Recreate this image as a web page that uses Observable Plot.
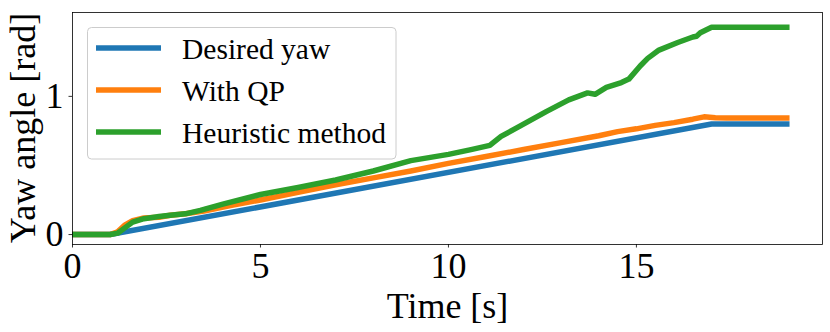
<!DOCTYPE html>
<html>
<head>
<meta charset="utf-8">
<script src="https://cdn.jsdelivr.net/npm/d3@7"></script>
<script src="https://cdn.jsdelivr.net/npm/@observablehq/plot@0.6"></script>
<style>
  html, body { margin: 0; padding: 0; background: #fff; }
  #chart { position: relative; width: 830px; height: 332px; }
</style>
</head>
<body>
<div id="chart"></div>
<script>
// ---- data ----
const seriesNames = ["Desired yaw", "With QP", "Heuristic method"];
const seriesColors = ["#1f77b4", "#ff7f0e", "#2ca02c"];

const desiredT = [0, 1.0, 17.0, 19.0];
const desiredY = [0, 0, 0.80, 0.80];

const qpT = [0, 1.0, 1.2, 1.4, 1.6, 1.9, 2.3, 2.6, 3.0, 3.5, 4.2, 5.0, 6.0, 7.0, 8.0, 9.0, 10.0, 11.0, 12.0, 13.0, 14.0, 14.5, 15.0, 15.5, 16.0, 16.5, 16.8, 17.1, 17.4, 19.0];
const qpY = [0, 0, 0.02, 0.07, 0.10, 0.12, 0.125, 0.14, 0.15, 0.17, 0.21, 0.25, 0.305, 0.36, 0.41, 0.46, 0.515, 0.565, 0.615, 0.665, 0.715, 0.745, 0.765, 0.79, 0.81, 0.835, 0.852, 0.846, 0.844, 0.844];

const heurT = [0, 1.0, 1.2, 1.4, 1.6, 1.9, 2.3, 2.6, 3.0, 3.4, 4.0, 5.0, 6.0, 7.0, 8.0, 9.0, 10.0, 10.6, 11.1, 11.4, 11.9, 12.6, 13.2, 13.7, 13.9, 14.2, 14.6, 14.8, 15.1, 15.3, 15.6, 16.1, 16.5, 16.6, 16.7, 17.0, 19.0];
const heurY = [0, 0, 0.01, 0.05, 0.09, 0.115, 0.13, 0.14, 0.15, 0.175, 0.22, 0.29, 0.34, 0.395, 0.46, 0.535, 0.58, 0.615, 0.645, 0.71, 0.785, 0.89, 0.975, 1.025, 1.015, 1.065, 1.10, 1.125, 1.22, 1.275, 1.335, 1.39, 1.43, 1.435, 1.46, 1.50, 1.50];

const xTicks = [0, 5, 10, 15];
const yTicks = [0, 1];
const xLabel = "Time [s]";
const yLabel = "Yaw angle [rad]";

// ---- build table ----
const rows = [];
[[desiredT, desiredY], [qpT, qpY], [heurT, heurY]].forEach(([ts, ys], i) => {
  ts.forEach((t, j) => rows.push({series: seriesNames[i], t, y: ys[j]}));
});

const font = "Liberation Serif, Times New Roman, serif";

const plot = Plot.plot({
  width: 830,
  height: 332,
  marginLeft: 72,
  marginRight: 8,
  marginTop: 12,
  marginBottom: 88,
  style: {fontFamily: font, fontSize: "36px", background: "white", color: "black"},
  x: {domain: [0, 19.95]},
  y: {domain: [-0.072, 1.607]},
  color: {domain: seriesNames, range: seriesColors},
  marks: [
    Plot.line(rows, {
      x: "t", y: "y", z: "series", stroke: "series",
      strokeWidth: 5.5, strokeLinecap: "square", strokeLinejoin: "round", clip: true
    }),
    Plot.frame({stroke: "black", strokeWidth: 0.8}),
    Plot.axisX({ticks: xTicks, tickSize: 3.5, tickPadding: 4.5, tickFormat: d3.format("d"), label: null, fontSize: 36, strokeWidth: 0.8}),
    Plot.axisY({ticks: yTicks, tickSize: 3.5, tickPadding: 5.5, tickFormat: d3.format("d"), label: null, fontSize: 36, strokeWidth: 0.8}),
    Plot.text([xLabel], {frameAnchor: "bottom", dy: 61.5, lineAnchor: "middle", fontSize: 36, text: d => d})
  ]
});

document.getElementById("chart").appendChild(plot);

const svg = d3.select(plot);

// ---- y axis label (rotated) ----
svg.append("text")
  .attr("transform", "translate(35,128) rotate(-90)")
  .attr("text-anchor", "middle")
  .attr("font-family", font)
  .attr("font-size", "36px")
  .attr("fill", "black")
  .text(yLabel);

// ---- legend (upper-left, inside axes) ----
const lg = svg.append("g").attr("font-family", font);
lg.append("rect")
  .attr("x", 87.5).attr("y", 27.5).attr("width", 308.5).attr("height", 131.5)
  .attr("rx", 4).attr("ry", 4)
  .attr("fill", "white").attr("fill-opacity", 0.8)
  .attr("stroke", "#cccccc").attr("stroke-width", 1);
seriesNames.forEach((name, i) => {
  const cy = 48 + i * 42;
  lg.append("line")
    .attr("x1", 96).attr("x2", 161).attr("y1", cy).attr("y2", cy)
    .attr("stroke", seriesColors[i]).attr("stroke-width", 5.5);
  lg.append("text")
    .attr("x", 182).attr("y", cy + 11)
    .attr("text-anchor", "start")
    .attr("font-size", "29.5px").attr("fill", "black")
    .text(name);
});
</script>
</body>
</html>
